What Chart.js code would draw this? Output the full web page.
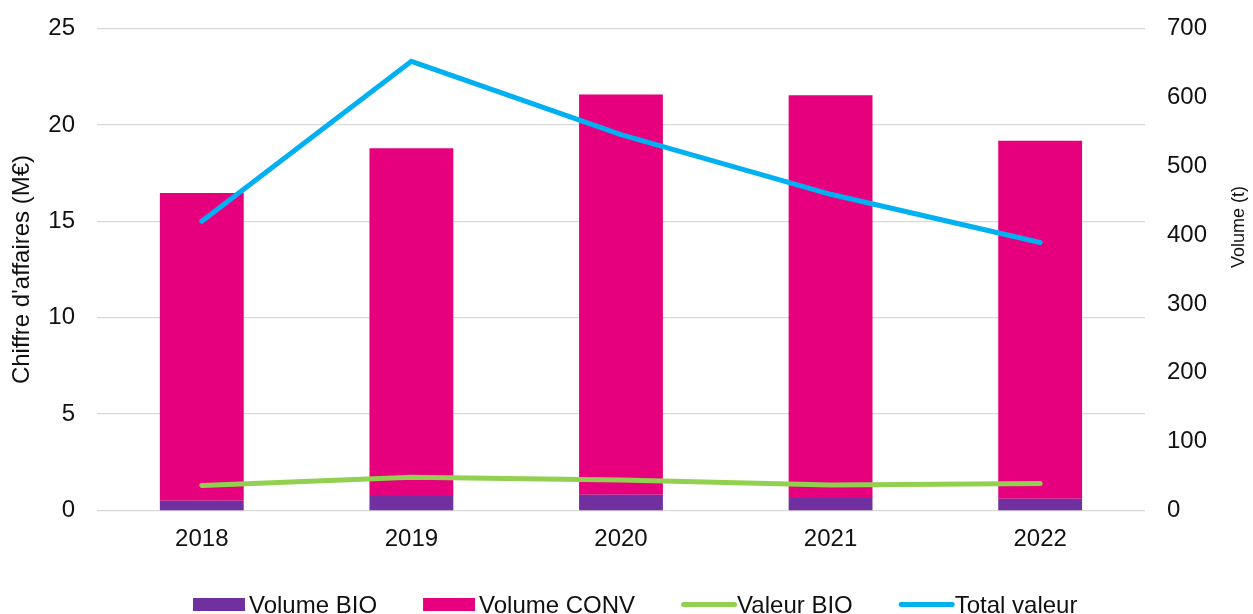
<!DOCTYPE html>
<html>
<head>
<meta charset="utf-8">
<script src="https://cdn.jsdelivr.net/npm/chart.js@4/dist/chart.umd.min.js"></script>
<style>
  html, body { margin: 0; padding: 0; background: #ffffff; }
  #wrap { width: 1253px; height: 614px; }
</style>
</head>
<body>
<div id="wrap"><canvas id="c" width="1253" height="614"></canvas></div>
<script>
// ---- data ----
const categories = ['2018', '2019', '2020', '2021', '2022'];
const volumeBio = [14, 21, 23, 18, 17];          // t (right axis)
const volumeConv = [447, 505, 581, 585, 520];    // t (right axis)
const valeurBio = [1.30, 1.72, 1.58, 1.32, 1.40];     // M€ (left axis)
const totalValeur = [15.0, 23.3, 19.5, 16.4, 13.9];   // M€ (left axis)
const leftTicks = [0, 5, 10, 15, 20, 25];
const rightTicks = [0, 100, 200, 300, 400, 500, 600, 700];
const leftTitle = "Chiffre d'affaires (M€)";
const rightTitle = 'Volume (t)';

const FONT = "'Liberation Sans', Arial, Helvetica, sans-serif";
const TEXT = '#111111';
const COLORS = { bio: '#7030A0', conv: '#E6007E', valBio: '#92D050', total: '#00B0F0' };

// custom legend + right-axis title (rotated like the left one)
const extras = {
  id: 'extras',
  afterDraw(chart) {
    const ctx = chart.ctx;
    ctx.save();
    // right axis title
    ctx.font = '18px ' + FONT;
    ctx.fillStyle = TEXT;
    ctx.textAlign = 'center';
    ctx.textBaseline = 'middle';
    ctx.translate(1239, 227);
    ctx.rotate(-Math.PI / 2);
    ctx.fillText(rightTitle, 0, 0);
    ctx.restore();

    // legend
    ctx.save();
    ctx.font = '24px ' + FONT;
    ctx.textAlign = 'left';
    ctx.textBaseline = 'alphabetic';
    let x = 193;
    const cy = 604.5;
    chart.data.datasets.forEach(ds => {
      if (ds.type === 'bar') {
        ctx.fillStyle = ds.backgroundColor;
        ctx.fillRect(x, 598, 52, 13);
      } else {
        ctx.strokeStyle = ds.borderColor;
        ctx.lineWidth = 5;
        ctx.lineCap = 'round';
        ctx.beginPath();
        ctx.moveTo(x + 2.5, cy);
        ctx.lineTo(x + 53.5, cy);
        ctx.stroke();
      }
      ctx.fillStyle = TEXT;
      const tx = x + 56;
      ctx.fillText(ds.label, tx, 612.5);
      x = tx + ctx.measureText(ds.label).width + 46;
    });
    ctx.restore();
  }
};

new Chart(document.getElementById('c'), {
  data: {
    labels: categories,
    datasets: [
      { type: 'bar', label: 'Volume BIO', data: volumeBio, yAxisID: 'y1',
        backgroundColor: COLORS.bio, borderWidth: 0, order: 2,
        barPercentage: 0.4, categoryPercentage: 1.0 },
      { type: 'bar', label: 'Volume CONV', data: volumeConv, yAxisID: 'y1',
        backgroundColor: COLORS.conv, borderWidth: 0, order: 2,
        barPercentage: 0.4, categoryPercentage: 1.0 },
      { type: 'line', label: 'Valeur BIO', data: valeurBio, yAxisID: 'y',
        borderColor: COLORS.valBio, backgroundColor: COLORS.valBio, borderWidth: 5,
        pointRadius: 0, tension: 0, borderCapStyle: 'round', order: 1 },
      { type: 'line', label: 'Total valeur', data: totalValeur, yAxisID: 'y',
        borderColor: COLORS.total, backgroundColor: COLORS.total, borderWidth: 5,
        pointRadius: 0, tension: 0, borderCapStyle: 'round', order: 1 }
    ]
  },
  options: {
    responsive: false,
    animation: false,
    devicePixelRatio: 1,
    layout: { padding: { top: 28.5, right: 42, bottom: 46.7, left: 0 } },
    plugins: {
      legend: { display: false },
      tooltip: { enabled: false },
      title: { display: false }
    },
    scales: {
      x: {
        stacked: true,
        offset: true,
        grid: { display: false, drawTicks: false },
        border: { display: false },
        ticks: { color: TEXT, font: { family: FONT, size: 24 }, padding: 14, maxRotation: 0 }
      },
      y: {
        position: 'left',
        min: 0, max: 25,
        afterBuildTicks(scale) { scale.ticks = leftTicks.map(v => ({ value: v })); },
        grid: { color: '#d9d9d9', lineWidth: 1.3, drawTicks: true, tickLength: 18,
                tickColor: 'rgba(0,0,0,0)' },
        border: { display: false },
        ticks: { color: TEXT, font: { family: FONT, size: 24 }, padding: 4 },
        title: { display: true, text: leftTitle, color: TEXT,
                 font: { family: FONT, size: 24 }, padding: { top: 8, bottom: 7.5 } }
      },
      y1: {
        position: 'right',
        stacked: true,
        min: 0, max: 700,
        afterBuildTicks(scale) { scale.ticks = rightTicks.map(v => ({ value: v })); },
        grid: { display: false, drawTicks: true, tickLength: 18 },
        border: { display: false },
        ticks: { color: TEXT, font: { family: FONT, size: 24 }, padding: 4 }
      }
    }
  },
  plugins: [extras]
});
</script>
</body>
</html>
